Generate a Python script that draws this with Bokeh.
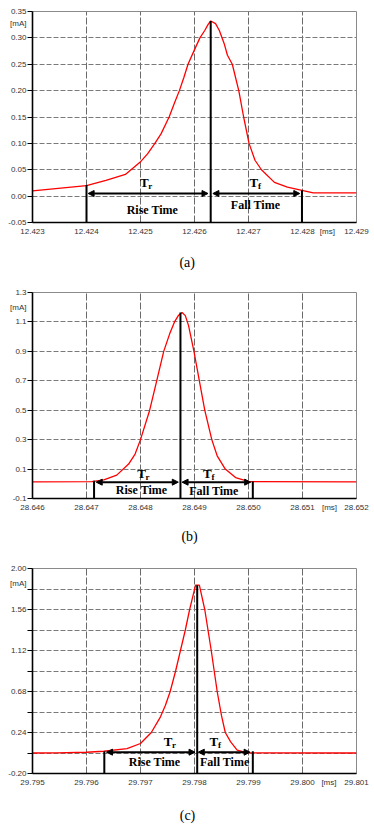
from bokeh.plotting import figure
from bokeh.models import (FixedTicker, CustomJSTickFormatter, Label, Arrow, NormalHead,
                          LinearAxis)
from bokeh.layouts import column
from bokeh.embed import file_html
from bokeh.resources import INLINE

# ---------------- data ----------------
# panel (a)
a_time = [12.4230, 12.4240, 12.42436, 12.42472, 12.42499, 12.42513, 12.42526, 12.42538,
          12.42553, 12.42562, 12.42572, 12.42580, 12.42588, 12.42598, 12.42610, 12.42619,
          12.42625, 12.4263, 12.42639, 12.42646, 12.42655, 12.42661, 12.42670, 12.42682,
          12.42691, 12.42701, 12.42712, 12.42724, 12.42748, 12.42772, 12.42799, 12.42820,
          12.4290]
a_current = [0.010, 0.020, 0.030, 0.041, 0.064, 0.080, 0.099, 0.118,
             0.150, 0.174, 0.200, 0.224, 0.250, 0.273, 0.300, 0.314,
             0.325, 0.332, 0.327, 0.314, 0.289, 0.267, 0.250, 0.200,
             0.150, 0.100, 0.068, 0.050, 0.026, 0.017, 0.011, 0.006,
             0.006]
a_xticks = [12.423, 12.424, 12.425, 12.426, 12.427, 12.428, 12.429]
a_yticks = [-0.05, 0.00, 0.05, 0.10, 0.15, 0.20, 0.25, 0.30, 0.35]
a_marks_x = [12.424, 12.4263, 12.42799]
a_marks_top = [0.021, 0.332, 0.011]
a_rise = [12.42403, 12.42625]
a_fall = [12.42634, 12.42795]

# panel (b)
b_time = [28.6460, 28.64710, 28.64732, 28.64756, 28.64778, 28.64790, 28.64800, 28.64817,
          28.64830, 28.64843, 28.64854, 28.64863, 28.64870, 28.64877, 28.64883, 28.64889,
          28.64899, 28.64909, 28.64919, 28.64932, 28.64942, 28.64957, 28.64976, 28.65001,
          28.6520]
b_current = [0.013, 0.015, 0.027, 0.059, 0.134, 0.202, 0.300, 0.500,
             0.700, 0.900, 1.019, 1.100, 1.143, 1.164, 1.143, 1.075,
             0.900, 0.700, 0.500, 0.300, 0.190, 0.100, 0.042, 0.015,
             0.013]
b_xticks = [28.646, 28.647, 28.648, 28.649, 28.650, 28.651, 28.652]
b_yticks = [-0.1, 0.1, 0.3, 0.5, 0.7, 0.9, 1.1, 1.3]
b_marks_x = [28.64714, 28.64874, 28.65008]
b_marks_top = [0.020, 1.164, 0.015]
b_rise = [28.64718, 28.64870]
b_fall = [28.64877, 28.65004]

# panel (c)
c_time = [29.7950, 29.79545, 29.79600, 29.79632, 29.79675, 29.79700, 29.79720, 29.79737,
          29.79746, 29.79755, 29.79765, 29.79774, 29.79783, 29.79791, 29.79802, 29.79809,
          29.79819, 29.79831, 29.79842, 29.79850, 29.79857, 29.79867, 29.79879, 29.79898,
          29.8010]
c_current = [0.020, 0.022, 0.028, 0.039, 0.068, 0.122, 0.240, 0.408,
             0.530, 0.680, 0.900, 1.120, 1.340, 1.560, 1.821, 1.821,
             1.560, 1.120, 0.680, 0.420, 0.240, 0.140, 0.050, 0.022,
             0.020]
c_xticks = [29.795, 29.796, 29.797, 29.798, 29.799, 29.800, 29.801]
c_yticks = [-0.20, 0.24, 0.68, 1.12, 1.56, 2.00]
c_yminor = [0.02, 0.46, 0.90, 1.34, 1.78]
c_marks_x = [29.79633, 29.79805, 29.79908]
c_marks_top = [0.040, 1.821, 0.040]
c_rise = [29.79637, 29.79801]
c_fall = [29.79807, 29.79903]

SANS = "Liberation Sans"
SERIF = "Liberation Serif"
W = 374


def panel(name, t, cur, xticks, yticks, ydec, marks_x, marks_top, rise, fall, arrow_y,
          tr_pos, rise_pos, tf_pos, fall_pos, ms_x, height, top, bottom, left, right,
          ma_px, cap_standoff, yminor=None):
    x0, x1 = xticks[0], xticks[-1]
    y0, y1 = yticks[0], yticks[-1]
    frame_h = height - top - bottom
    frame_w = W - left - right
    ma_y = y1 - ma_px * (y1 - y0) / frame_h            # "[mA]" unit text position
    cap_x = x0 + (187 - left) * (x1 - x0) / frame_w    # caption centred on the page
    minor = list(yminor) if yminor else []

    p = figure(width=W, height=height, x_range=(x0, x1), y_range=(y0, y1),
               output_backend="svg", toolbar_location=None, tools="",
               min_border_left=left, min_border_right=right,
               min_border_top=top, min_border_bottom=bottom)
    p.background_fill_color = "white"
    p.border_fill_color = "white"
    p.outline_line_color = "#8a8a8a"
    p.outline_line_width = 1

    # axis: labelled ticks + unit text; tick marks drawn as "minor" ticks
    p.xaxis.ticker = FixedTicker(ticks=list(xticks) + [ms_x])
    p.xaxis.formatter = CustomJSTickFormatter(
        args=dict(u=ms_x), code="return Math.abs(tick - u) < 1e-9 ? '[ms]' : tick.toFixed(3);")
    p.yaxis.ticker = FixedTicker(ticks=list(yticks) + [ma_y], minor_ticks=list(yticks) + minor)
    p.yaxis.formatter = CustomJSTickFormatter(
        args=dict(u=ma_y, d=ydec), code="return Math.abs(tick - u) < 1e-9 ? '[mA]' : tick.toFixed(d);")
    p.xgrid.ticker = FixedTicker(ticks=xticks)
    p.ygrid.ticker = FixedTicker(ticks=yticks, minor_ticks=minor)

    for ax in (p.xaxis[0], p.yaxis[0]):
        ax.axis_line_color = "black"
        ax.axis_line_width = 1.6
        ax.major_label_text_font = SANS
        ax.major_label_text_font_size = "8px"
        ax.major_label_text_color = "#333333"
        ax.major_tick_line_color = None
        ax.minor_tick_line_color = None
    ya = p.yaxis[0]
    ya.minor_tick_line_color = "black"
    ya.minor_tick_in = 0
    ya.minor_tick_out = 5
    ya.major_tick_in = 0
    ya.major_tick_out = 5
    ya.major_label_standoff = 1
    xa = p.xaxis[0]
    xa.major_tick_in = 0
    xa.major_tick_out = 0
    xa.major_label_standoff = 4

    p.xgrid.grid_line_color = "#6a6a6a"
    p.xgrid.grid_line_dash = "7 2"
    p.ygrid.grid_line_color = "#7a7a7a"
    p.ygrid.grid_line_dash = "5 2"
    if yminor:
        p.ygrid.minor_grid_line_color = "#7a7a7a"
        p.ygrid.minor_grid_line_dash = "5 2"

    # caption as an extra, line-less axis below the plot
    cap = LinearAxis(ticker=FixedTicker(ticks=[cap_x]),
                     formatter=CustomJSTickFormatter(args=dict(s=name), code="return s;"),
                     axis_line_color=None, major_tick_line_color=None,
                     minor_tick_line_color=None, major_tick_in=0, major_tick_out=0,
                     major_label_standoff=cap_standoff,
                     major_label_text_font=SERIF, major_label_text_font_size="14px",
                     major_label_text_color="black")
    p.add_layout(cap, "below")

    # signal
    p.line(t, cur, line_color="#ff0000", line_width=1.3)

    # marker verticals
    p.segment(x0=marks_x, y0=[y0] * len(marks_x), x1=marks_x, y1=marks_top,
              line_color="black", line_width=2)

    # double arrows
    for seg in (rise, fall):
        p.add_layout(Arrow(x_start=seg[0], y_start=arrow_y, x_end=seg[1], y_end=arrow_y,
                           line_color="black", line_width=2,
                           start=NormalHead(size=6, fill_color="black", line_color="black"),
                           end=NormalHead(size=6, fill_color="black", line_color="black")))

    # texts
    for pos, sub in ((tr_pos, "r"), (tf_pos, "f")):
        p.add_layout(Label(x=pos[0], y=pos[1], text="T", text_font=SERIF,
                           text_font_style="bold", text_font_size="13px",
                           text_align="center", text_baseline="middle", text_color="black"))
        p.add_layout(Label(x=pos[0], y=pos[1], x_offset=4, y_offset=-4, text=sub,
                           text_font=SERIF, text_font_style="bold", text_font_size="9px",
                           text_align="left", text_baseline="middle", text_color="black"))
    p.add_layout(Label(x=rise_pos[0], y=rise_pos[1], text="Rise Time", text_font=SERIF,
                       text_font_style="bold", text_font_size="12px", text_align="center",
                       text_baseline="middle", text_color="black"))
    p.add_layout(Label(x=fall_pos[0], y=fall_pos[1], text="Fall Time", text_font=SERIF,
                       text_font_style="bold", text_font_size="12px", text_align="center",
                       text_baseline="middle", text_color="black"))
    return p


pa = panel("(a)", a_time, a_current, a_xticks, a_yticks, 2, a_marks_x, a_marks_top,
           a_rise, a_fall, 0.005, (12.42507, 0.0265), (12.42522, -0.026), (12.42710, 0.0265),
           (12.42713, -0.0165), 12.42846, 280, 11, 58, 28, 13, 12, 16)
pb = panel("(b)", b_time, b_current, b_xticks, b_yticks, 1, b_marks_x, b_marks_top,
           b_rise, b_fall, 0.011, (28.64802, 0.07), (28.64802, -0.041), (28.64924, 0.07),
           (28.64936, -0.047), 28.65150, 280, 12, 62, 28, 18, 15, 14)
pc = panel("(c)", c_time, c_current, c_xticks, c_yticks, 2, c_marks_x, c_marks_top,
           c_rise, c_fall, 0.029, (29.79751, 0.147), (29.79726, -0.075), (29.79836, 0.147),
           (29.79856, -0.075), 29.80049, 274, 8, 61, 32, 18, 15, 18, yminor=c_yminor)

layout = column(pa, pb, pc, spacing=0)
open("out.html", "w").write(file_html(layout, INLINE))
